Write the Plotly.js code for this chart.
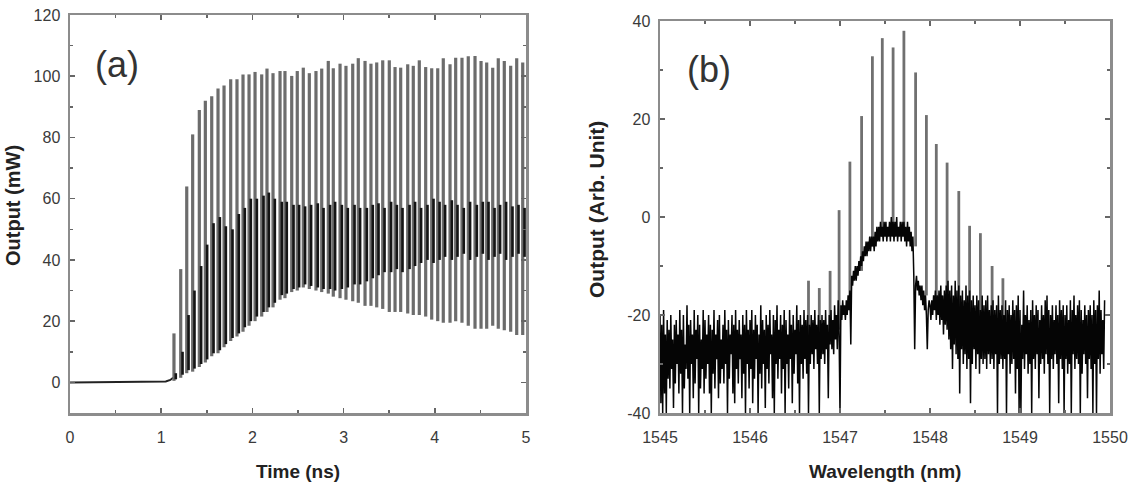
<!DOCTYPE html>
<html>
<head>
<meta charset="utf-8">
<script src="https://cdn.plot.ly/plotly-3.0.1.min.js"></script>
<style>
  html, body { margin: 0; padding: 0; background: #fff; }
  #chart { width: 1131px; height: 484px; }
</style>
</head>
<body>
<div id="chart"></div>
<script>
// ---------------- Panel (a): time trace ----------------
// pre-lasing baseline
const baseT = [0, 0.9, 1.05, 1.10, 1.13];
const baseY = [0, 0.05, 0.3, 0.8, 1.5];

// pulse times (ns)
const pulseT = [1.140, 1.214, 1.280, 1.345, 1.418, 1.484, 1.554, 1.623, 1.689, 1.762,
  1.831, 1.897, 1.963, 2.029, 2.102, 2.160, 2.226, 2.303, 2.357, 2.431,
  2.492, 2.558, 2.624, 2.697, 2.760, 2.832, 2.887, 2.961, 3.026, 3.100,
  3.161, 3.235, 3.300, 3.363, 3.429, 3.501, 3.564, 3.626, 3.703, 3.764,
  3.830, 3.900, 3.966, 4.032, 4.093, 4.167, 4.229, 4.298, 4.367, 4.441,
  4.507, 4.569, 4.635, 4.696, 4.762, 4.832, 4.898, 4.964];

// pulse peak values (mW)
const pulsePeak = [16, 37, 64, 81, 89, 92, 93.5, 96, 97, 99,
  99, 100.6, 100.6, 101.4, 100.6, 102.5, 101, 101.7, 101.7, 100.1,
  101.7, 102.8, 101, 101.7, 102.5, 105, 102.6, 104.1, 103.4, 104.1,
  105.9, 105, 104.1, 104.5, 105.2, 105.2, 103, 102.8, 103.9, 103.4,
  105.2, 103, 102.6, 102.6, 105.9, 103.9, 106, 106, 106.5, 106.6,
  105, 104.5, 102.8, 105.9, 105, 103.4, 105.9, 104.5];

// pulse trough values (mW)
const pulseTrough = [0.5, 1.5, 3, 3.5, 5, 6.5, 8.5, 9.5, 11.5, 13.5,
  15, 16.5, 18.5, 20, 21.5, 23, 24.5, 27, 27.5, 29.5,
  30, 31, 30.5, 30, 29.5, 29, 28, 27.5, 27, 26.5,
  26, 25, 25, 24.5, 24, 23, 23, 23, 22.5, 22,
  22, 21.5, 20.5, 20, 19.5, 19.5, 20, 19.5, 18.5, 17.5,
  17.5, 17.5, 18.5, 17.5, 17, 16.5, 15.5, 15.5];

// upper edge of the dense (dark) band (mW)
const pulseMid = [3, 10, 22, 30, 38, 45, 52, 54, 51, 50,
  55, 57, 60, 60, 61, 62, 60, 59, 59, 58,
  58, 57.5, 58, 58.5, 57, 58, 59, 58, 57, 58,
  57, 57, 58, 58.5, 57, 59, 58, 57, 58, 59,
  57, 58, 60, 59, 58, 59.5, 58, 57, 59, 58,
  59, 59, 57, 58, 59, 57.5, 58, 57];

// lower edge of the dense (dark) band (mW)
const pulseBandLow = [1, 2.5, 4, 4.5, 6, 7.5, 9.5, 10.5, 12.5, 14.5,
  16, 18, 20, 21.5, 23, 24.5, 26, 28.5, 29, 30.5,
  31, 32, 31.5, 31, 30.5, 30.5, 30, 30.5, 31, 32,
  32, 33, 34, 35, 36, 36, 37, 36, 37, 38,
  39, 40, 39, 40, 41, 40, 41, 42, 40, 41,
  42, 40, 41, 42, 40, 41, 42, 41];

// ---------------- Panel (b): spectrum ----------------
const specStart = 1545.00;
const specStep = 0.01;
const spec1545 = [
  -20,-38,-22,-40,-19,-36,-24,-40,-21,-33,
  -23,-35,-20,-31,-25,-39,-22,-34,-21,-30,
  -24,-36,-19,-32,-23,-40,-20,-35,-26,-31,
  -18,-33,-22,-40,-21,-30,-24,-37,-19,-34,
  -23,-29,-20,-40,-22,-35,-25,-31,-19,-36,
  -21,-33,-24,-30,-20,-36,-22,-40,-23,-32,
  -19,-35,-24,-29,-21,-37,-20,-34,-25,-31,
  -22,-34,-19,-30,-23,-40,-21,-33,-24,-28,
  -20,-36,-22,-38,-19,-31,-23,-34,-21,-29,
  -24,-37,-20,-32,-22,-40,-19,-30,-23,-35];
const spec1546 = [
  -21,-31,-19,-38,-23,-33,-20,-29,-22,-40,
  -24,-32,-18,-35,-21,-30,-23,-39,-20,-31,
  -22,-34,-19,-28,-24,-37,-20,-40,-21,-30,
  -18,-33,-23,-29,-20,-36,-22,-31,-19,-40,
  -21,-30,-24,-35,-19,-29,-22,-38,-20,-32,
  -23,-28,-18,-34,-21,-40,-20,-30,-22,-33,
  -19,-29,-21,-32,-20,-40,-22,-30,-20,-28,
  -21,-31,-19,-27,-22,-30,-20,-40,-21,-29,
  -20,-28,-21,-30,-19,-27,-22,-37,-20,-26,
  -19,-27,-21,-28,-18,-25,-20,-27,-17,-24];
const spec1547 = [
  -40,-18,-21,-17,-20,-18,-21,-17,-20,-16,
  -19,-15,-26,-12,-14,-11,-13,-10,-13,-10,
  -12,-9,-11,-8,-10,-7,-9,-6,-8,-5,
  -8,-5,-7,-4,-7,-4,-6,-4,-7,-3,
  -6,-2,-5,-2,-5,-1,-4,-2,-5,-1,
  -4,-1,-5,-2,-4,-1,-5,0,-4,-1,
  -5,-1,-4,0,-5,-2,-4,-1,-5,-1,
  -4,-1,-5,-2,-6,-1,-5,-2,-6,-3,
  -7,-4,-12,-27,-14,-12,-15,-13,-16,-14,
  -17,-14,-18,-15,-19,-16,-20,-27,-19,-17];
const spec1548 = [
  -18,-21,-17,-20,-16,-19,-15,-21,-16,-20,
  -15,-22,-14,-21,-16,-24,-15,-22,-14,-23,
  -13,-25,-15,-27,-14,-31,-16,-26,-13,-28,
  -15,-29,-14,-36,-16,-27,-15,-30,-17,-28,
  -14,-31,-16,-29,-15,-38,-17,-30,-16,-27,
  -18,-31,-16,-28,-17,-32,-19,-29,-16,-30,
  -18,-29,-17,-31,-16,-28,-19,-30,-18,-29,
  -17,-31,-19,-28,-18,-40,-16,-30,-19,-29,
  -18,-31,-20,-29,-17,-40,-19,-28,-18,-32,
  -20,-30,-17,-29,-19,-36,-18,-31,-16,-40];
const spec1549 = [
  -19,-40,-22,-29,-15,-31,-20,-28,-18,-32,
  -21,-30,-19,-40,-17,-29,-20,-31,-18,-28,
  -19,-37,-21,-30,-18,-29,-20,-32,-17,-28,
  -16,-30,-19,-40,-20,-29,-18,-31,-21,-28,
  -18,-30,-20,-38,-17,-29,-19,-31,-18,-40,
  -20,-29,-18,-32,-21,-30,-17,-40,-19,-28,
  -16,-31,-20,-29,-18,-30,-17,-40,-19,-32,
  -21,-28,-18,-30,-20,-37,-19,-29,-18,-31,
  -20,-40,-17,-30,-19,-40,-18,-29,-15,-32,
  -19,-28,-21,-31,-17];

// longitudinal-mode comb lines
const combWl = [1546.65, 1546.77, 1546.89, 1546.99, 1547.11, 1547.24, 1547.36, 1547.47, 1547.59, 1547.71,
  1547.84, 1547.96, 1548.07, 1548.19, 1548.32, 1548.44, 1548.56, 1548.69, 1548.81];
const combPeak = [-13, -14.5, -11, 1.4, 11.3, 20.6, 32.8, 36.5, 34.6, 38,
  29.5, 20.8, 14.9, 11.1, 5.3, -1.8, -3.3, -10, -12.5];
const combBase = [-28, -27, -25, -23, -19, -11, -6, -4, -3, -3,
  -6, -16, -18, -19, -22, -24, -26, -27, -28];

// tick labels
const timeTicks = [0, 1, 2, 3, 4, 5];
const powerTicks = [0, 20, 40, 60, 80, 100, 120];
const wlTicks = [1545, 1546, 1547, 1548, 1549, 1550];
const specTicks = [-40, -20, 0, 20, 40];
const specTickText = ['-40', '-20', '0', '20', '40'];

// ---------------- build traces ----------------
const spikeX = [], spikeY = [], bandX = [], bandY = [];
pulseT.forEach((t, i) => {
  spikeX.push(t, t, null); spikeY.push(pulseTrough[i], pulsePeak[i], null);
  bandX.push(t + 0.02, t + 0.02, null); bandY.push(pulseBandLow[i], pulseMid[i], null);
});

const specY = [].concat(spec1545, spec1546, spec1547, spec1548, spec1549);
const specX = specY.map((_, i) => +(specStart + i * specStep).toFixed(3));

const combX = [], combY = [];
combWl.forEach((w, i) => { combX.push(w, w, null); combY.push(combBase[i], combPeak[i], null); });

const traces = [
  {x: baseT, y: baseY, mode: 'lines', line: {color: '#222', width: 2}, xaxis: 'x', yaxis: 'y', hoverinfo: 'skip'},
  {x: spikeX, y: spikeY, mode: 'lines', line: {color: '#6c6c6c', width: 3.2}, xaxis: 'x', yaxis: 'y', connectgaps: false, hoverinfo: 'skip'},
  {x: bandX, y: bandY, mode: 'lines', line: {color: '#141414', width: 2.6}, xaxis: 'x', yaxis: 'y', connectgaps: false, hoverinfo: 'skip'},
  {x: combX, y: combY, mode: 'lines', line: {color: '#707070', width: 2.8}, xaxis: 'x2', yaxis: 'y2', connectgaps: false, hoverinfo: 'skip'},
  {x: specX, y: specY, mode: 'lines', line: {color: '#050505', width: 1.5}, xaxis: 'x2', yaxis: 'y2', hoverinfo: 'skip'}
];

const W = 1131, H = 484;
const FONT = 'Liberation Sans, Arial, sans-serif';
function axisCommon(extra) {
  return Object.assign({
    showline: true, mirror: 'ticks', linecolor: '#8c8c8c', linewidth: 2.5,
    ticks: 'inside', ticklen: 5, tickwidth: 1.5, tickcolor: '#666',
    showgrid: false, zeroline: false, fixedrange: true,
    tickfont: {family: FONT, size: 16, color: '#3a3a3a'}
  }, extra);
}

const layout = {
  width: W, height: H,
  margin: {l: 0, r: 0, t: 0, b: 0},
  paper_bgcolor: '#ffffff', plot_bgcolor: '#ffffff',
  showlegend: false,
  xaxis: axisCommon({domain: [70 / W, 526 / W], range: [0, 5], anchor: 'y',
    tickmode: 'array', tickvals: timeTicks, ticktext: timeTicks.map(String),
    ticklabelstandoff: 8,
    minor: {ticks: 'inside', ticklen: 3, dtick: 0.5, tick0: 0, tickcolor: '#666', tickwidth: 1.5}}),
  yaxis: axisCommon({domain: [(H - 413) / H, (H - 15) / H], range: [-10, 120], anchor: 'x',
    tickmode: 'array', tickvals: powerTicks, ticktext: powerTicks.map(String),
    ticklabelstandoff: 4,
    minor: {ticks: 'inside', ticklen: 3, dtick: 10, tick0: 0, tickcolor: '#666', tickwidth: 1.5}}),
  xaxis2: axisCommon({domain: [660 / W, 1110 / W], range: [1545, 1550], anchor: 'y2',
    tickmode: 'array', tickvals: wlTicks, ticktext: wlTicks.map(String),
    ticklabelstandoff: 8,
    minor: {ticks: 'inside', ticklen: 3, dtick: 0.5, tick0: 1545, tickcolor: '#666', tickwidth: 1.5}}),
  yaxis2: axisCommon({domain: [(H - 413) / H, (H - 21) / H], range: [-40, 40], anchor: 'x2',
    tickmode: 'array', tickvals: specTicks, ticktext: specTickText,
    ticklabelstandoff: 4,
    minor: {ticks: 'inside', ticklen: 3, dtick: 10, tick0: -40, tickcolor: '#666', tickwidth: 1.5}}),
  annotations: [
    {text: '(a)', xref: 'paper', yref: 'paper', x: 117 / W, y: (H - 64) / H, xanchor: 'center', yanchor: 'middle',
      showarrow: false, font: {family: FONT, size: 36, color: '#333'}},
    {text: '(b)', xref: 'paper', yref: 'paper', x: 709 / W, y: (H - 70) / H, xanchor: 'center', yanchor: 'middle',
      showarrow: false, font: {family: FONT, size: 36, color: '#333'}},
    {text: '<b>Time (ns)</b>', xref: 'paper', yref: 'paper', x: 298 / W, y: (H - 471) / H, xanchor: 'center', yanchor: 'middle',
      showarrow: false, font: {family: FONT, size: 19, color: '#222'}},
    {text: '<b>Wavelength (nm)</b>', xref: 'paper', yref: 'paper', x: 885 / W, y: (H - 471) / H, xanchor: 'center', yanchor: 'middle',
      showarrow: false, font: {family: FONT, size: 19, color: '#222'}},
    {text: '<b>Output (mW)</b>', xref: 'paper', yref: 'paper', x: 13 / W, y: (H - 206) / H, xanchor: 'center', yanchor: 'middle',
      textangle: -90, showarrow: false, font: {family: FONT, size: 20, color: '#222'}},
    {text: '<b>Output (Arb. Unit)</b>', xref: 'paper', yref: 'paper', x: 596 / W, y: (H - 210) / H, xanchor: 'center', yanchor: 'middle',
      textangle: -90, showarrow: false, font: {family: FONT, size: 21, color: '#222'}}
  ]
};

Plotly.newPlot('chart', traces, layout, {staticPlot: true, displayModeBar: false});
</script>
</body>
</html>
